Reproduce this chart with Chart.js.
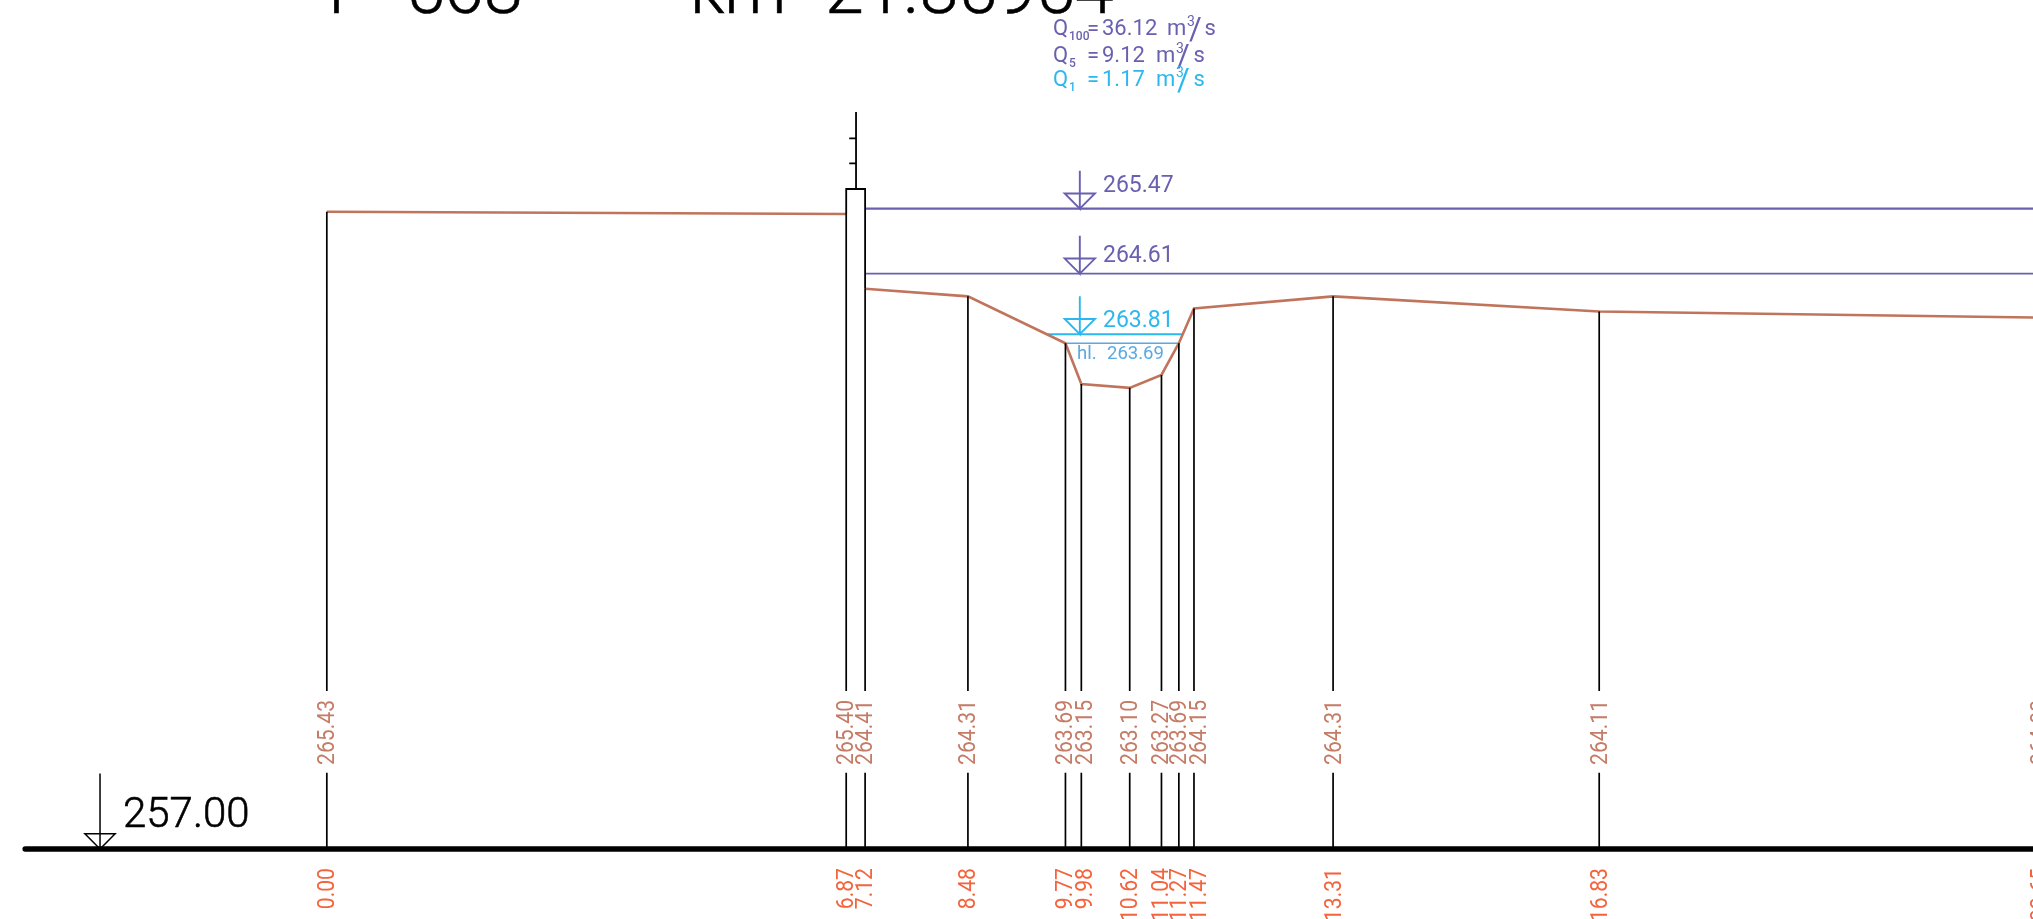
<!DOCTYPE html>
<html>
<head>
<meta charset="utf-8">
<title>Cross section</title>
<script src="https://cdn.jsdelivr.net/npm/chart.js@4"></script>
<style>
  html, body { margin: 0; padding: 0; background: #fff; overflow: hidden; }
  canvas { display: block; }
</style>
</head>
<body>
<canvas id="profil" width="2033" height="919"></canvas>
<script>
// Dados
const estacoes = [0.00, 6.87, 7.12, 8.48, 9.77, 9.98, 10.62, 11.04, 11.27, 11.47, 13.31, 16.83, 22.65];
const cotas = [265.43, 265.40, 264.41, 264.31, 263.69, 263.15, 263.10, 263.27, 263.69, 264.15, 264.31, 264.11, 264.03];
const estacoesTexto = ['0.00', '6.87', '7.12', '8.48', '9.77', '9.98', '10.62', '11.04', '11.27', '11.47', '13.31', '16.83', '22.65'];
const cotasTexto = ['265.43', '265.40', '264.41', '264.31', '263.69', '263.15', '263.10', '263.27', '263.69', '264.15', '264.31', '264.11', '264.03'];

const niveis = [265.47, 264.61, 263.81];
const niveisInicio = [7.12, 7.12, 9.53];
const niveisFim = [22.65, 22.65, 11.32];
const hl = 263.69;
const hlInicio = 9.77;
const hlFim = 11.27;

const cotaBase = 257.00;
const baseInicio = -3.99;
const baseFim = 22.65;
const baseSimboloX = -3.0;
const simboloX = 9.96;

const posteX = [6.87, 7.12];
const posteTopo = 265.73;
const hasteX = 7.0;
const hasteTopo = 266.75;
const hasteMarcas = [266.40, 266.07];
const hasteMarcaX = 6.91;

// interrupção das verticais para os textos de cota
const corteBaixo = 258.01;
const corteCima = 259.09;

const ROXO = '#6a60b0';
const CIANO = '#2db7ef';
const AZUL_HL = '#5aa9e2';
const TERRENO = '#c0745c';
const TEXTO_COTA = '#c57c67';
const TEXTO_EST = '#f4643c';
const FONTE = 'Roboto';

// Terreno com interrupção no poste
let terreno = [];
estacoes.forEach((x, i) => {
    terreno.push({ x: x, y: cotas[i] });
    if (x === posteX[0]) terreno.push({ x: x, y: null });
});

// Verticais do terreno até a linha base
let verticais = [];
estacoes.forEach((x, i) => {
    verticais.push({ x: x, y: cotas[i] }, { x: x, y: corteCima }, { x: x, y: null });
    verticais.push({ x: x, y: corteBaixo }, { x: x, y: cotaBase }, { x: x, y: null });
});

// Poste
let poste = [
    { x: posteX[0], y: cotas[1] }, { x: posteX[0], y: posteTopo },
    { x: posteX[1], y: posteTopo }, { x: posteX[1], y: cotas[2] },
    { x: hasteX, y: null },
    { x: hasteX, y: posteTopo }, { x: hasteX, y: hasteTopo }
];
hasteMarcas.forEach(m => {
    poste.push({ x: hasteX, y: null }, { x: hasteMarcaX, y: m }, { x: hasteX, y: m });
});

// Símbolo de nível: haste e triângulo
function simbolo(x, y, haste) {
    return [
        { x: x, y: y + haste }, { x: x, y: y }, { x: x - 0.2, y: y + 0.2 },
        { x: x + 0.2, y: y + 0.2 }, { x: x, y: y }
    ];
}

function linha(dados, cor, largura, extra) {
    return Object.assign({
        data: dados,
        borderColor: cor,
        borderWidth: largura,
        pointRadius: 0,
        tension: 0,
        fill: false,
        spanGaps: false
    }, extra || {});
}

// Texto girado, comprimido no sentido da escrita
function textoGirado(ctx, txt, px, py, alinhamento, cor) {
    ctx.save();
    ctx.translate(px + 8, py);
    ctx.rotate(-Math.PI / 2);
    ctx.scale(0.92, 1);
    ctx.textBaseline = 'alphabetic';
    ctx.textAlign = alinhamento;
    ctx.fillStyle = cor;
    ctx.font = '23px ' + FONTE;
    ctx.fillText(txt, 0, 0);
    ctx.restore();
}

// Textos desenhados depois das linhas
const textos = {
    id: 'textos',
    afterDraw(chart) {
        const ctx = chart.ctx;
        const sx = chart.scales.x;
        const sy = chart.scales.y;
        ctx.save();
        ctx.textBaseline = 'alphabetic';
        ctx.textAlign = 'left';

        ctx.fillStyle = '#000';
        ctx.strokeStyle = '#000';
        ctx.lineWidth = 0.6;
        ctx.font = '300 70px ' + FONTE;
        [['P', 328], ['568', 406], ['km', 690], ['21.85954', 825]].forEach(t => {
            ctx.fillText(t[0], t[1], 13);
            ctx.strokeText(t[0], t[1], 13);
        });
        ctx.font = '300 42px ' + FONTE;
        ctx.fillText('257.00', 123, 827);
        ctx.strokeText('257.00', 123, 827);

        ctx.font = '23px ' + FONTE;
        [ROXO, ROXO, CIANO].forEach((cor, i) => {
            ctx.fillStyle = cor;
            ctx.fillText(niveis[i].toFixed(2), 1103, sy.getPixelForValue(niveis[i]) - [17, 12, 7.5][i]);
        });

        ctx.fillStyle = AZUL_HL;
        ctx.font = '18.5px ' + FONTE;
        ctx.fillText('hl.', 1077, 359);
        ctx.fillText(hl.toFixed(2), 1107, 359);

        // Vazões
        const vazoes = [
            ['100', '36.12', 35, ROXO, 1167, 1187, 1189, 1204.5],
            ['5', '9.12', 61.5, ROXO, 1156, 1176, 1177, 1193.5],
            ['1', '1.17', 86, CIANO, 1156, 1176, 1177, 1193.5]
        ];
        vazoes.forEach(q => {
            ctx.fillStyle = q[3];
            ctx.font = '22px ' + FONTE;
            ctx.fillText('Q', 1053, q[2]);
            ctx.fillText('=', 1087, q[2]);
            ctx.fillText(q[1], 1102, q[2]);
            ctx.fillText('m', q[4], q[2]);
            ctx.fillText('s', q[7], q[2]);
            ctx.font = '500 12px ' + FONTE;
            ctx.fillText(q[0], 1069, q[2] + 5);
            ctx.font = '14px ' + FONTE;
            ctx.fillText('3', q[5], q[2] - 9);
            ctx.font = '31px ' + FONTE;
            ctx.fillText('/', q[6], q[2] + 4);
        });

        // Cotas e estações, giradas; deslocadas onde ficariam sobrepostas
        const desvio = [-0.5, -1, -1, -0.5, -1, 3, -0.5, -1.5, -1, 4, -0.5, -0.5, -0.5];
        estacoes.forEach((x, i) => {
            const px = sx.getPixelForValue(x) + desvio[i];
            textoGirado(ctx, cotasTexto[i], px, 765, 'left', TEXTO_COTA);
            textoGirado(ctx, estacoesTexto[i], px, 868, 'right', TEXTO_EST);
        });
        ctx.restore();
    }
};

var profilChart = new Chart(document.getElementById('profil').getContext('2d'), {
    type: 'line',
    data: {
        datasets: [
            linha(verticais, '#000', 1.7),
            linha(poste, '#000', 1.8),
            linha(terreno, TERRENO, 2.6),
            linha([{ x: niveisInicio[0], y: niveis[0] }, { x: niveisFim[0], y: niveis[0] }], ROXO, 2.2),
            linha([{ x: niveisInicio[1], y: niveis[1] }, { x: niveisFim[1], y: niveis[1] }], ROXO, 1.6),
            linha([{ x: niveisInicio[2], y: niveis[2] }, { x: niveisFim[2], y: niveis[2] }], CIANO, 2),
            linha([{ x: hlInicio, y: hl }, { x: hlFim, y: hl }], AZUL_HL, 1.5),
            linha(simbolo(simboloX, niveis[0], 0.5), ROXO, 1.9),
            linha(simbolo(simboloX, niveis[1], 0.5), ROXO, 1.9),
            linha(simbolo(simboloX, niveis[2], 0.5), CIANO, 1.9),
            linha(simbolo(baseSimboloX, cotaBase, 1.0), '#000', 1.5),
            linha([{ x: baseInicio, y: cotaBase }, { x: baseFim, y: cotaBase }], '#000', 5.5, { borderCapStyle: 'round' })
        ]
    },
    options: {
        responsive: false,
        animation: false,
        devicePixelRatio: 1,
        layout: { padding: 0 },
        events: [],
        plugins: { legend: { display: false }, tooltip: { enabled: false }, title: { display: false } },
        scales: {
            x: { type: 'linear', display: false, min: -4.323, max: 22.568 },
            y: { type: 'linear', display: false, min: 256.074, max: 268.23 }
        }
    },
    plugins: [textos]
});
</script>
</body>
</html>
